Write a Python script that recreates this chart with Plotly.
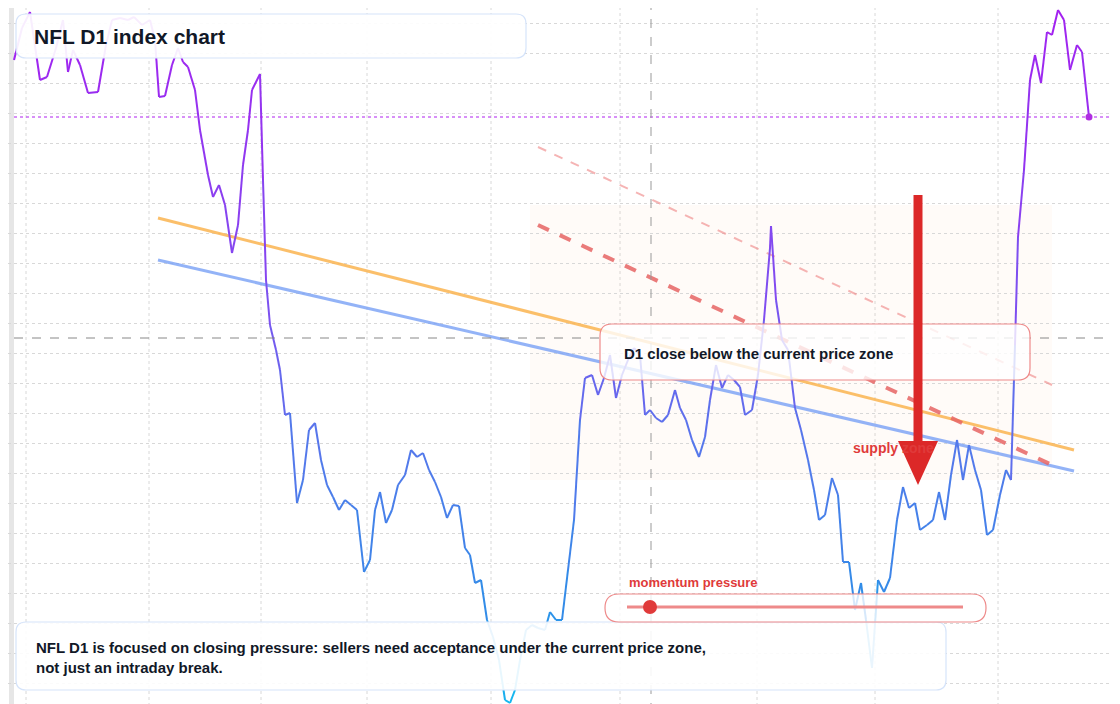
import plotly.graph_objects as go

# bar positions (screen-ish x units) and index level
bar_x = [14,22,30,40,47,56,63,68,73,80,88,98,106,112,120,128,134,142,150,155,159,165,172,178,183,188,195,200,208,213,219,225,232,238,243,248,252,260,263,266,270,276,280,285,290,297,303,309,315,321,327,333,339,345,351,357,364,370,375,380,386,392,398,405,411,417,423,429,435,441,447,453,459,465,470,475,481,487,493,499,505,510,515,520,526,532,538,545,550,556,562,568,574,580,585,592,598,604,610,616,622,628,634,640,645,650,656,662,668,675,680,686,692,699,705,710,716,722,728,734,740,745,752,758,764,770,771,776,782,788,795,801,808,814,819,825,832,838,843,849,855,861,866,872,878,884,890,897,903,909,915,920,927,933,939,945,951,957,963,969,975,981,987,993,1000,1006,1011,1015,1018,1024,1030,1035,1041,1047,1052,1058,1064,1070,1077,1082,1089]
bar_py = [60,28,12,80,77,48,20,72,50,65,93,92,45,20,18,20,17,25,20,40,97,96,65,48,62,67,90,130,175,197,185,205,253,225,165,130,90,74,180,280,325,350,370,415,413,503,480,430,423,460,485,497,510,500,505,510,572,560,510,492,523,510,485,475,450,457,453,470,482,497,518,505,506,548,555,583,580,620,637,660,700,703,690,660,630,625,628,630,612,620,620,570,520,420,378,375,395,378,355,398,375,360,348,355,415,410,418,422,415,390,408,420,440,457,437,400,365,388,375,380,387,415,410,375,320,248,226,300,340,350,408,430,460,490,520,515,478,495,562,562,610,583,620,668,580,592,578,520,487,508,503,530,525,520,492,520,475,440,480,445,470,490,535,530,495,470,480,345,237,170,80,55,83,32,35,10,20,70,45,52,117]
level = [704 - p for p in bar_py]
last_level = level[-1]
pivot_level = 704 - 338
title = "NFL D1 index chart"
note = "NFL D1 is focused on closing pressure: sellers need acceptance under the current price zone,<br>not just an intraday break."
callout = "D1 close below the current price zone"

stops = [(704, (165, 30, 240)), (404, (125, 80, 240)), (254, (85, 120, 235)), (104, (50, 140, 232)), (0, (20, 185, 240))]
def col(v):
    for (a, ca), (b, cb) in zip(stops, stops[1:]):
        if b <= v <= a:
            t = (a - v) / (a - b)
            return "rgb(%d,%d,%d)" % tuple(round(ca[i] + (cb[i] - ca[i]) * t) for i in range(3))
    return "rgb(20,185,240)"

fig = go.Figure()
# trend lines
fig.add_trace(go.Scatter(x=[158, 1074], y=[704-218, 704-450], mode="lines", line=dict(color="rgba(250,180,80,0.85)", width=3), hoverinfo="skip"))
fig.add_trace(go.Scatter(x=[158, 1074], y=[704-260, 704-471], mode="lines", line=dict(color="rgba(120,160,245,0.8)", width=3), hoverinfo="skip"))
fig.add_trace(go.Scatter(x=[538, 1052], y=[704-147, 704-385], mode="lines", line=dict(color="rgba(240,140,140,0.65)", width=2, dash="dash"), hoverinfo="skip"))
fig.add_trace(go.Scatter(x=[538, 1052], y=[704-225, 704-465], mode="lines", line=dict(color="rgba(230,100,100,0.85)", width=4, dash="dash"), hoverinfo="skip"))
for i in range(len(bar_x) - 1):
    fig.add_trace(go.Scatter(x=bar_x[i:i+2], y=level[i:i+2], mode="lines",
                             line=dict(color=col((level[i] + level[i+1]) / 2), width=2), hoverinfo="skip"))
fig.add_trace(go.Scatter(x=[bar_x[-1]], y=[last_level], mode="markers", marker=dict(color="#b030e0", size=7), hoverinfo="skip"))

shapes = []
for gx in [26, 149, 261, 367, 491, 620, 757, 875, 998]:
    shapes.append(dict(type="line", x0=gx, x1=gx, y0=-8, y1=704, line=dict(color="#d8d8d8", width=1, dash="dot"), layer="below"))
shapes += [
    dict(type="rect", x0=0, x1=14, y0=-8, y1=704, fillcolor="white", line_width=0, layer="below"),
    dict(type="rect", x0=9, x1=14, y0=-8, y1=704, fillcolor="#e6e6e6", line_width=0, layer="below"),
    dict(type="rect", x0=530, x1=1052, y0=704-480, y1=704-205, fillcolor="rgba(250,200,160,0.08)", line_width=0, layer="below"),
    dict(type="line", x0=14, x1=1130, y0=last_level, y1=last_level, line=dict(color="#b020f0", width=1, dash="dot")),
    dict(type="line", x0=14, x1=1130, y0=pivot_level, y1=pivot_level, line=dict(color="#888", width=1, dash="dash")),
    dict(type="line", x0=651, x1=651, y0=-8, y1=704, line=dict(color="#999", width=1, dash="dash")),
]
def rbox(x0, y0, x1, y1, r, fill, line):
    Y0, Y1 = 704 - y1, 704 - y0
    p = (f"M{x0+r},{Y0} L{x1-r},{Y0} Q{x1},{Y0} {x1},{Y0+r} L{x1},{Y1-r} Q{x1},{Y1} {x1-r},{Y1} "
         f"L{x0+r},{Y1} Q{x0},{Y1} {x0},{Y1-r} L{x0},{Y0+r} Q{x0},{Y0} {x0+r},{Y0} Z")
    return dict(type="path", path=p, fillcolor=fill, line=dict(color=line, width=1.2), layer="above")
shapes += [
    rbox(16, 14, 526, 58, 10, "rgba(255,255,255,0.92)", "#d6e4fa"),
    rbox(600, 324, 1030, 380, 12, "rgba(255,255,255,0.8)", "#ee8a8a"),
    rbox(16, 622, 946, 690, 10, "rgba(255,255,255,0.9)", "#d6e4fa"),
    rbox(605, 594, 986, 622, 14, "rgba(255,255,255,0.8)", "#ee8a8a"),
    dict(type="line", x0=627, x1=963, y0=704-607, y1=704-607, line=dict(color="#ee8a8a", width=3), layer="above"),
    dict(type="circle", x0=643, x1=657, y0=704-614, y1=704-600, fillcolor="#e03a3a", line_width=0, layer="above"),
    dict(type="line", x0=918, x1=918, y0=704-195, y1=704-445, line=dict(color="#dc2828", width=9), layer="above"),
    dict(type="path", path=f"M898,{704-441} L938,{704-441} L918,{704-485} Z", fillcolor="#dc2828", line_width=0, layer="above"),
]
fig.update_layout(shapes=shapes)

fig.add_annotation(x=32, y=704-36, text="<b>" + title + "</b>", showarrow=False, xanchor="left", yanchor="middle",
                   font=dict(size=21, color="#111827", family="Liberation Sans"))
fig.add_annotation(x=622, y=704-353, text="<b>" + callout + "</b>", showarrow=False, xanchor="left", yanchor="middle",
                   font=dict(size=15, color="#111827", family="Liberation Sans"))
fig.add_annotation(x=34, y=704-657, text="<b>" + note + "</b>", showarrow=False, xanchor="left", yanchor="middle", align="left",
                   font=dict(size=15, color="#111827", family="Liberation Sans"))
fig.add_annotation(x=627, y=704-582, text="<b>momentum pressure</b>", showarrow=False, xanchor="left", yanchor="middle",
                   font=dict(size=13, color="#e03a3a", family="Liberation Sans"))
fig.add_annotation(x=851, y=704-448, text="<b>supply zone</b>", showarrow=False, xanchor="left", yanchor="middle",
                   font=dict(size=14, color="#e03a3a", family="Liberation Sans"))

fig.update_layout(width=1120, height=704, margin=dict(l=0, r=0, t=0, b=0), showlegend=False,
                  plot_bgcolor="white", paper_bgcolor="white",
                  xaxis=dict(range=[8, 1128], visible=False, fixedrange=True),
                  yaxis=dict(range=[-8, 696], showgrid=True, gridcolor="#d8d8d8", griddash="dot", tick0=21, dtick=30,
                             showticklabels=False, zeroline=False, fixedrange=True))
fig.write_html("out.html")
